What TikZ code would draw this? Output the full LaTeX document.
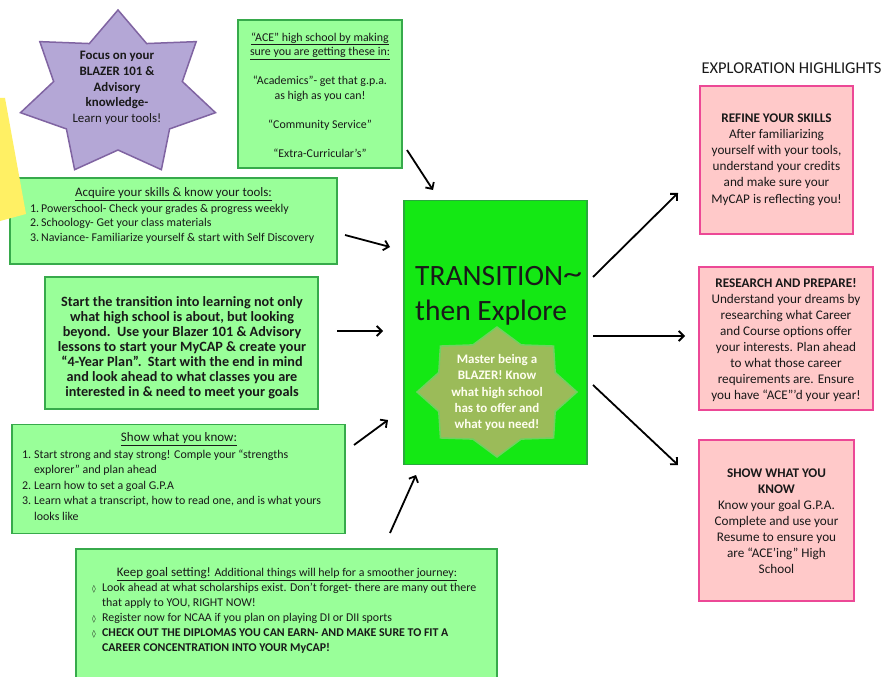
\documentclass[tikz,border=0pt]{standalone}
\usepackage{fontspec}
\setmainfont{Carlito}
\newfontfamily\djv{DejaVu Sans}
\usetikzlibrary{arrows.meta}
\definecolor{lgreen}{RGB}{153,255,153}
\definecolor{gedge}{RGB}{55,170,75}
\definecolor{cgreen}{RGB}{20,232,20}
\definecolor{cedge}{RGB}{40,170,60}
\definecolor{olive}{RGB}{155,187,89}
\definecolor{oedge}{RGB}{110,210,95}
\definecolor{lav}{RGB}{180,167,214}
\definecolor{lavedge}{RGB}{128,100,162}
\definecolor{pinkf}{RGB}{255,201,201}
\definecolor{pinke}{RGB}{236,72,150}
\definecolor{yel}{RGB}{255,240,100}
\definecolor{txt}{RGB}{25,25,25}
\newcommand\fs[2]{\fontsize{#1}{#2}\selectfont}
\newcommand\dmd{\makebox[10pt][l]{\djv\fontsize{7.5}{10}\selectfont ◊}}
\begin{document}
\begin{tikzpicture}[x=1pt,y=-1pt,
  gbox/.style={draw=gedge,fill=lgreen,line width=1.8pt,inner sep=0pt},
  pbox/.style={draw=pinke,fill=pinkf,line width=1.8pt,inner sep=0pt},
  tx/.style={inner sep=0pt,text=txt},
  arr/.style={line width=1.8pt,-{Straight Barb[length=5pt,width=10pt]}}]
\useasboundingbox (0,0) rectangle (895,677);
\fill[white] (0,0) rectangle (895,677);

% purple star
\draw[fill=lav,draw=lavedge,line width=1.5pt,shift={(118,94)}]
  (-90:100 and 84) \foreach \k in {0,...,6} { -- ({-90+\k*360/7}:100 and 84) -- ({-90+\k*360/7+180/7}:66 and 56) } -- cycle;
\node[tx,align=center,font=\fs{12.9}{15.8}] (focus) at (117,88)
  {\textbf{Focus on your}\\\textbf{BLAZER 101 \&}\\\textbf{Advisory}\\\textbf{knowledge-}\\Learn your tools!};

% green boxes
\node[gbox,minimum width=164pt,minimum height=148pt] (ace) at (320,94) {};
\node[tx,align=center,font=\fs{11.9}{14.5}] (acet) at (320,95)
  {\underline{“ACE” high school by making}\\\underline{sure you are getting these in:}\\[14.5pt]
   “Academics”- get that g.p.a.\\as high as you can!\\[14.5pt]“Community Service”\\[14.5pt]“Extra-Curricular’s”};

\node[gbox,minimum width=327pt,minimum height=86pt] (acq) at (173.5,221) {};
\node[tx,font=\fs{12.9}{14}] (acqh) at (173.5,194) {\underline{Acquire your skills \& know your tools:}};
\node[tx,align=left,anchor=west,font=\fs{11.9}{14.5}] (acql) at (30,223.5)
  {\makebox[11pt][l]{1.}Powerschool- Check your grades \& progress weekly\\
   \makebox[11pt][l]{2.}Schoology- Get your class materials\\
   \makebox[11pt][l]{3.}Naviance- Familiarize yourself \& start with Self Discovery};

\node[gbox,minimum width=273pt,minimum height=132pt] (start) at (181.5,343) {};
\node[tx,align=center,font=\bfseries\fs{14.2}{15}] (startt) at (182,347.5)
  {Start the transition into learning not only\\what high school is about, but looking\\
   beyond.\ \ Use your Blazer 101 \& Advisory\\lessons to start your MyCAP \& create your\\
   “4-Year Plan”.\ \ Start with the end in mind\\and look ahead to what classes you are\\
   interested in \& need to meet your goals};

\node[gbox,minimum width=333pt,minimum height=109pt] (show) at (178.5,479) {};
\node[tx,font=\fs{13}{14}] (showh) at (179,439) {\underline{Show what you know:}};
\node[tx,align=left,anchor=west,font=\fs{11.9}{15.5}] (showl) at (22,485)
  {\makebox[12pt][l]{1.}Start strong and stay strong! Comple your “strengths\\
   \hspace*{12pt}explorer” and plan ahead\\
   \makebox[12pt][l]{2.}Learn how to set a goal G.P.A\\
   \makebox[12pt][l]{3.}Learn what a transcript, how to read one, and is what yours\\
   \hspace*{12pt}looks like};

\node[gbox,minimum width=421pt,minimum height=160pt] (keep) at (286.5,629) {};
\node[tx,font=\fs{11.9}{14}] (keeph) at (287,574)
  {\underline{{\fs{13}{14}Keep goal setting!} Additional things will help for a smoother journey:}};
\node[tx,align=left,anchor=west,font=\fs{11.9}{15}] (keepl) at (92,618)
  {\dmd Look ahead at what scholarships exist. Don’t forget- there are many out there\\
   \hspace*{10pt}that apply to YOU, RIGHT NOW!\\
   \dmd Register now for NCAA if you plan on playing DI or DII sports\\
   \dmd\textbf{CHECK OUT THE DIPLOMAS YOU CAN EARN- AND MAKE SURE TO FIT A}\\
   \hspace*{10pt}\textbf{CAREER CONCENTRATION INTO YOUR MyCAP!}};

% yellow sliver
\fill[yel] (0,98) -- (5,98) -- (26,214) -- (0,221) -- cycle;

% center box
\node[draw=cedge,fill=cgreen,line width=1.5pt,minimum width=183pt,minimum height=264pt] (center) at (495.5,332.5) {};
\node[tx,align=left,anchor=west,font=\fs{29.5}{35.5}] (title) at (415,296) {TRANSITION\raisebox{2pt}{\scalebox{1.3}[1]{\char`~}}\\then Explore};
\draw[fill=olive,draw=oedge,line width=1.5pt,shift={(497,392)}]
  (0:80 and 65) \foreach \k in {0,...,7} { -- ({\k*45}:80 and 65) -- ({\k*45+22.5}:63 and 51) } -- cycle;
\node[inner sep=0pt,align=center,text=white!94!yellow,font=\bfseries\fs{13}{16.2}] (master) at (497,392.5)
  {Master being a\\BLAZER! Know\\what high school\\has to offer and\\what you need!};

% right side
\node[tx,font=\fs{16.5}{18}] (expl) at (791.5,68) {EXPLORATION HIGHLIGHTS};
\node[pbox,minimum width=153pt,minimum height=148pt] (refine) at (776.5,160) {};
\node[tx,align=center,font=\fs{13.2}{16.2}] (refinet) at (776.5,159.5)
  {\textbf{REFINE YOUR SKILLS}\\After familiarizing\\yourself with your tools,\\understand your credits\\and make sure your\\MyCAP is reflecting you!};
\node[pbox,minimum width=174pt,minimum height=143pt] (research) at (786,338.5) {};
\node[tx,align=center,font=\fs{13.2}{16}] (researcht) at (786,340)
  {\textbf{RESEARCH AND PREPARE!}\\Understand your dreams by\\researching what Career\\and Course options offer\\
   your interests. Plan ahead\\to what those career\\requirements are. Ensure\\you have “ACE”’d your year!};
\node[pbox,minimum width=155pt,minimum height=161pt] (showk) at (776.5,520.5) {};
\node[tx,align=center,font=\fs{13.2}{16}] (showkt) at (776.5,521)
  {\textbf{SHOW WHAT YOU}\\\textbf{KNOW}\\Know your goal G.P.A.\\Complete and use your\\Resume to ensure you\\are “ACE’ing” High\\School};

% arrows
\coordinate (a1s) at (407,150); \coordinate (a1e) at (433,190);
\coordinate (a2s) at (345,235); \coordinate (a2e) at (390,247);
\coordinate (a3s) at (337,331); \coordinate (a3e) at (383,331);
\coordinate (a4s) at (354,445); \coordinate (a4e) at (388,420);
\coordinate (a5s) at (390,533); \coordinate (a5e) at (416,475);
\coordinate (r1s) at (593,277); \coordinate (r1e) at (678,193);
\coordinate (r2s) at (593,336); \coordinate (r2e) at (685,336);
\coordinate (r3s) at (593,385); \coordinate (r3e) at (678,465);
\foreach \p in {a1,a2,a3,a4,a5,r1,r2,r3} { \draw[arr] (\p s) -- (\p e); }
\end{tikzpicture}
\end{document}
